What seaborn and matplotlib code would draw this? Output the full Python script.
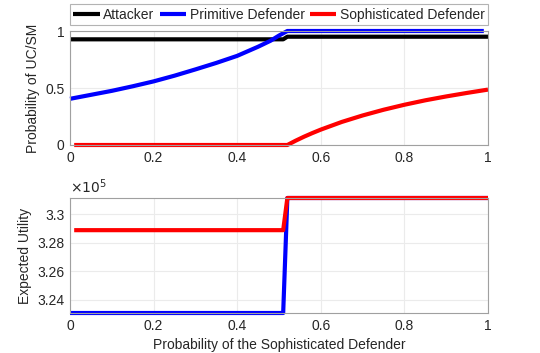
import numpy as np
import pandas as pd
import matplotlib
matplotlib.use("Agg")
import matplotlib.pyplot as plt
from matplotlib.ticker import FuncFormatter
import seaborn as sns

# Top panel: probability of UC/SM
p_attacker = [0.0, 0.51, 0.52, 1.0]
prob_attacker = [0.927, 0.927, 0.95, 0.95]

p_primitive = [0.0, 0.05, 0.1, 0.15, 0.2, 0.25, 0.3, 0.35, 0.4, 0.45, 0.48, 0.5, 0.52, 0.99]
prob_primitive = [0.405, 0.44, 0.475, 0.515, 0.558, 0.608, 0.663, 0.72, 0.782, 0.862,
                  0.915, 0.96, 1.0, 1.0]

p_sophisticated = [0.01, 0.52, 0.54, 0.56, 0.58, 0.6, 0.65, 0.7, 0.75, 0.8, 0.85, 0.9, 0.95, 1.0]
prob_sophisticated = [0.0, 0.0, 0.038, 0.073, 0.105, 0.135, 0.202, 0.259, 0.309, 0.353,
                      0.392, 0.426, 0.457, 0.486]

# Bottom panel: expected utility
p_eu_primitive = [0.0, 0.51, 0.52, 1.0]
eu_primitive = [323060, 323060, 331140, 331140]

p_eu_sophisticated = [0.01, 0.51, 0.52, 1.0]
eu_sophisticated = [328880, 328880, 331140, 331140]

x_ticks = [0, 0.2, 0.4, 0.6, 0.8, 1]
top_yticks = [0, 0.5, 1]
bottom_yticks = [324000, 326000, 328000, 330000]

sns.set_style("whitegrid")
plt.rcParams['font.family'] = ['Liberation Sans', 'DejaVu Sans']
plt.rcParams['font.size'] = 10
plt.rcParams['lines.solid_capstyle'] = 'butt'
plt.rcParams['lines.solid_joinstyle'] = 'round'

text_col = '#262626'
spine_col = '#a0a0a0'
grid_col = '#ebebeb'

fig = plt.figure(figsize=(5.4, 3.53), dpi=100)
ax1 = fig.add_axes([70 / 540, 1 - 145 / 353, 418 / 540, 114 / 353])
ax2 = fig.add_axes([70 / 540, 1 - 313 / 353, 418 / 540, 115 / 353])

lw = 3
sns.lineplot(x=p_attacker, y=prob_attacker, color='black', lw=lw, ax=ax1,
             label='Attacker', clip_on=False)
sns.lineplot(x=p_primitive, y=prob_primitive, color='#0000ff', lw=lw, ax=ax1,
             label='Primitive Defender', clip_on=False)
sns.lineplot(x=p_sophisticated, y=prob_sophisticated, color='#ff0000', lw=lw, ax=ax1,
             label='Sophisticated Defender', clip_on=False)

sns.lineplot(x=p_eu_primitive, y=eu_primitive, color='#0000ff', lw=lw, ax=ax2,
             clip_on=False)
sns.lineplot(x=p_eu_sophisticated, y=eu_sophisticated, color='#ff0000', lw=lw, ax=ax2,
             clip_on=False)

ax1.set_ylim(0, 1)
ax1.set_yticks(top_yticks)
ax1.yaxis.set_major_formatter(FuncFormatter(lambda v, _: f'{v:g}'))
ax1.set_ylabel('Probability of UC/SM', color=text_col)

ax2.set_ylim(323060, 331140)
ax2.set_yticks(bottom_yticks)
ax2.yaxis.set_major_formatter(FuncFormatter(lambda v, _: f'{v / 1e5:g}'))
ax2.set_ylabel('Expected Utility', color=text_col)
ax2.set_xlabel('Probability of the Sophisticated Defender', color=text_col)
ax2.text(0.0, 1.02, r'$\times10^5$', transform=ax2.transAxes, ha='left', va='bottom',
         color=text_col, fontsize=10)

for ax in (ax1, ax2):
    ax.set_xlim(0, 1)
    ax.set_xticks(x_ticks)
    ax.xaxis.set_major_formatter(FuncFormatter(lambda v, _: f'{v:g}'))
    ax.grid(True, color=grid_col, lw=0.8)
    ax.tick_params(direction='in', length=3, width=0.6, colors=spine_col,
                   labelcolor=text_col, labelsize=10, pad=4)
    for s in ax.spines.values():
        s.set_visible(True)
        s.set_color(spine_col)
        s.set_linewidth(0.8)

handles, labels = ax1.get_legend_handles_labels()
ax1.legend_.remove()
leg = ax1.legend(handles, labels, loc='lower left', bbox_to_anchor=(0, 1.05, 1, 0.2),
                 mode='expand', ncol=3, frameon=True, fancybox=False, fontsize=10,
                 borderaxespad=0, handlelength=1.9, handletextpad=0.25, columnspacing=0.5,
                 borderpad=0.25)
leg.get_frame().set_edgecolor(spine_col)
leg.get_frame().set_linewidth(0.8)

fig.savefig('out.png', dpi=100)
